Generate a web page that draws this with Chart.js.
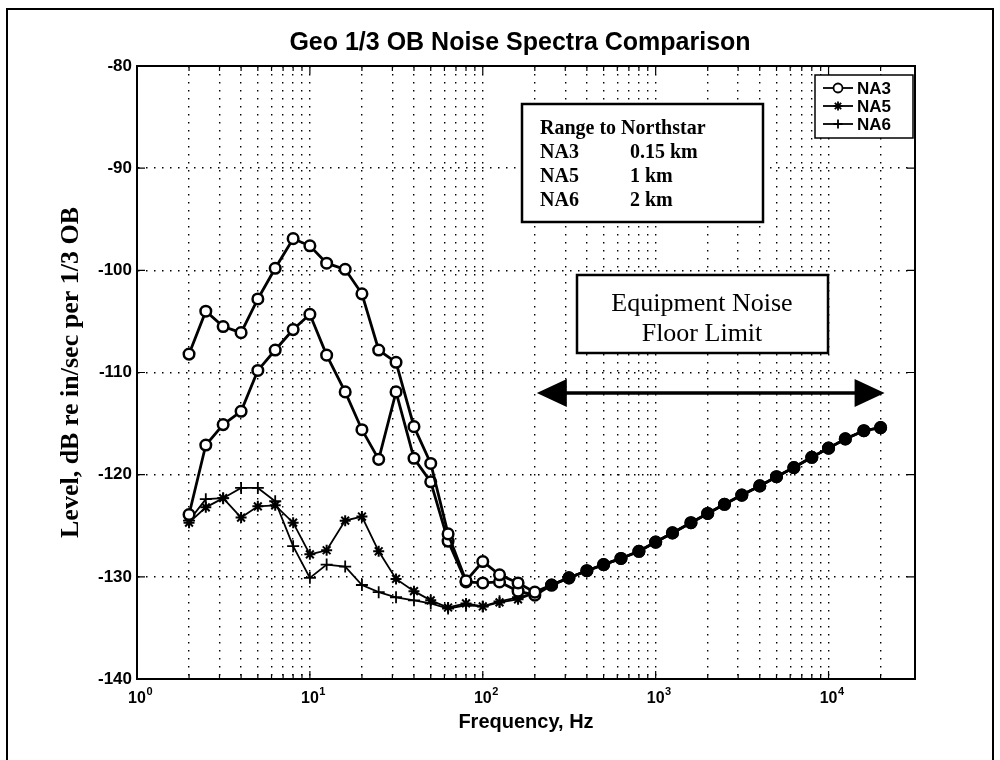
<!DOCTYPE html>
<html>
<head>
<meta charset="utf-8">
<script src="https://cdn.jsdelivr.net/npm/chart.js@4.4.1/dist/chart.umd.min.js"></script>
<style>
  html, body { margin: 0; padding: 0; background: #fff; }
  #wrap { width: 1000px; height: 760px; }
</style>
</head>
<body>
<div id="wrap"><canvas id="noiseChart" width="1000" height="760"></canvas></div>
<script>
// 1/3 octave band centre frequencies, Hz
const bands = [2, 2.5, 3.15, 4, 5, 6.3, 8, 10, 12.5, 16, 20, 25, 31.5, 40, 50, 63, 80, 100, 125, 160, 200,
               250, 315, 400, 500, 630, 800, 1000, 1250, 1600, 2000, 2500, 3150, 4000, 5000, 6300, 8000,
               10000, 12500, 16000, 20000];

// levels 2 Hz .. 200 Hz, dB re in/sec
const na3  = [-108.2, -104.0, -105.5, -106.1, -102.8, -99.8, -96.9, -97.6, -99.3, -99.9, -102.3,
              -107.8, -109.0, -115.3, -118.9, -125.8, -130.4, -128.5, -129.8, -130.6, -131.5];
const na3b = [-123.9, -117.1, -115.1, -113.8, -109.8, -107.8, -105.8, -104.3, -108.3, -111.9, -115.6,
              -118.5, -111.9, -118.4, -120.7, -126.5, -130.5, -130.6, -130.5, -131.4, -131.8];
const na5  = [-124.7, -123.2, -122.3, -124.2, -123.1, -123.0, -124.7, -127.8, -127.4, -124.5, -124.1,
              -127.5, -130.2, -131.4, -132.3, -133.0, -132.6, -132.9, -132.5, -132.2, -131.6];
const na6  = [-124.5, -122.4, -122.3, -121.3, -121.3, -122.6, -127.0, -130.1, -128.8, -129.0, -130.8,
              -131.5, -132.0, -132.3, -132.6, -133.1, -132.8, -132.9, -132.4, -132.0, -131.6];

// equipment noise floor, 250 Hz .. 20 kHz (all stations overlap here)
const floorTail = [-130.8, -130.1, -129.4, -128.8, -128.2, -127.5, -126.6, -125.7, -124.7, -123.8,
                   -122.9, -122.0, -121.1, -120.2, -119.3, -118.3, -117.4, -116.5, -115.7, -115.4];

// axis ticks
const xDecades = [1, 10, 100, 1000, 10000];
const xExponents = ['0', '1', '2', '3', '4'];
const yTicks = [-140, -130, -120, -110, -100, -90, -80];

const rangeRows = [['NA3', '0.15 km'], ['NA5', '1 km'], ['NA6', '2 km']];

// grid positions 1,2,..9 per decade up to 2e4
const xGridTicks = [];
xDecades.forEach(d => {
    for (let k = 1; k <= 9; k++) {
        if (d * k <= 20000) xGridTicks.push(d * k);
    }
});

function toPoints(low) {
    const vals = low.concat(floorTail);
    return bands.map((f, i) => ({ x: f, y: vals[i] }));
}

function fillTail(c) {
    return (c.raw && c.raw.x > 200) ? '#000' : '#fff';
}

const serif = '"Liberation Serif", "Times New Roman", serif';
const sans = '"Liberation Sans", Arial, sans-serif';
const tickFont = { family: sans, size: 16, weight: 'bold' };

// extras drawn on top: frame, title, exponents, boxes, arrow, legend
const decorPlugin = {
    id: 'decor',
    afterDraw(chart) {
        const ctx = chart.ctx;
        const a = chart.chartArea;
        const xs = chart.scales.x;
        const ys = chart.scales.y;
        ctx.save();
        ctx.strokeStyle = '#000';
        ctx.fillStyle = '#000';

        // outer frame
        ctx.lineWidth = 2;
        ctx.strokeRect(7, 9, 986, 800);

        // inward tick marks on all sides
        ctx.lineWidth = 1.2;
        xGridTicks.forEach(v => {
            const px = xs.getPixelForValue(v);
            const len = xDecades.includes(v) ? 8 : 5;
            ctx.beginPath();
            ctx.moveTo(px, a.bottom); ctx.lineTo(px, a.bottom - len);
            ctx.moveTo(px, a.top); ctx.lineTo(px, a.top + len);
            ctx.stroke();
        });
        yTicks.forEach(v => {
            const py = ys.getPixelForValue(v);
            ctx.beginPath();
            ctx.moveTo(a.left, py); ctx.lineTo(a.left + 8, py);
            ctx.moveTo(a.right, py); ctx.lineTo(a.right - 8, py);
            ctx.stroke();
        });

        // axes box
        ctx.lineWidth = 2;
        ctx.strokeRect(a.left, a.top, a.right - a.left, a.bottom - a.top);

        // exponents of the decade labels
        ctx.font = 'bold 16px ' + sans;
        const baseW = ctx.measureText('10').width;
        const labelY = xs.top + 10 + 9.6;
        ctx.font = 'bold 11px ' + sans;
        ctx.textAlign = 'left';
        ctx.textBaseline = 'middle';
        xDecades.forEach((v, i) => {
            ctx.fillText(xExponents[i], xs.getPixelForValue(v) + baseW / 2 + 0.5, labelY - 7);
        });

        // title
        ctx.font = 'bold 25px ' + sans;
        ctx.textAlign = 'center';
        ctx.fillText('Geo 1/3 OB Noise Spectra Comparison', (a.left + a.right) / 2 - 6, 43);

        // range box
        ctx.fillStyle = '#fff';
        ctx.fillRect(522, 104, 241, 118);
        ctx.fillStyle = '#000';
        ctx.lineWidth = 2.5;
        ctx.strokeRect(522, 104, 241, 118);
        ctx.font = 'bold 20px ' + serif;
        ctx.textAlign = 'left';
        ctx.fillText('Range to Northstar', 540, 129);
        rangeRows.forEach((r, i) => {
            ctx.fillText(r[0], 540, 153 + i * 24);
            ctx.fillText(r[1], 630, 153 + i * 24);
        });

        // equipment noise floor box
        ctx.fillStyle = '#fff';
        ctx.fillRect(577, 275, 251, 78);
        ctx.fillStyle = '#000';
        ctx.strokeRect(577, 275, 251, 78);
        ctx.font = '26px ' + serif;
        ctx.textAlign = 'center';
        ctx.fillText('Equipment Noise', 702, 304);
        ctx.fillText('Floor Limit', 702, 334);

        // double arrow 200 Hz .. 20 kHz
        const ay = ys.getPixelForValue(-112);
        const x1 = xs.getPixelForValue(200) + 2;
        const x2 = xs.getPixelForValue(20000) + 4;
        ctx.lineWidth = 3.5;
        ctx.beginPath();
        ctx.moveTo(x1 + 20, ay); ctx.lineTo(x2 - 20, ay);
        ctx.stroke();
        ctx.beginPath();
        ctx.moveTo(x1, ay); ctx.lineTo(x1 + 30, ay - 14); ctx.lineTo(x1 + 30, ay + 14); ctx.closePath();
        ctx.moveTo(x2, ay); ctx.lineTo(x2 - 30, ay - 14); ctx.lineTo(x2 - 30, ay + 14); ctx.closePath();
        ctx.fill();

        // legend
        ctx.fillStyle = '#fff';
        ctx.fillRect(815, 75, 98, 63);
        ctx.fillStyle = '#000';
        ctx.lineWidth = 1.5;
        ctx.strokeRect(815, 75, 98, 63);
        ctx.font = 'bold 17px ' + sans;
        ctx.textAlign = 'left';
        const styles = ['circle', 'star', 'cross'];
        ['NA3', 'NA5', 'NA6'].forEach((name, i) => {
            const ly = 88 + i * 18;
            ctx.lineWidth = 1.8;
            ctx.beginPath();
            ctx.moveTo(823, ly); ctx.lineTo(853, ly);
            ctx.stroke();
            ctx.fillStyle = '#fff';
            Chart.helpers.drawPoint(ctx, { pointStyle: styles[i], radius: 4.5, borderWidth: 1.8 }, 838, ly);
            ctx.fillStyle = '#000';
            ctx.fillText(name, 857, ly + 1);
        });
        ctx.restore();
    }
};

Chart.defaults.color = '#000';
Chart.defaults.animation = false;

const noiseChart = new Chart(document.getElementById('noiseChart'), {
    type: 'line',
    data: {
        datasets: [{
            label: 'NA3',
            data: toPoints(na3),
            borderColor: '#000',
            borderWidth: 2.8,
            pointStyle: 'circle',
            pointRadius: 5.3,
            pointBorderWidth: 2.5,
            pointBorderColor: '#000',
            pointBackgroundColor: fillTail
        }, {
            label: 'NA3 (2)',
            data: toPoints(na3b),
            borderColor: '#000',
            borderWidth: 2.8,
            pointStyle: 'circle',
            pointRadius: 5.3,
            pointBorderWidth: 2.5,
            pointBorderColor: '#000',
            pointBackgroundColor: fillTail
        }, {
            label: 'NA5',
            data: toPoints(na5),
            borderColor: '#000',
            borderWidth: 1.8,
            pointStyle: 'star',
            pointRadius: 5.5,
            pointBorderWidth: 2,
            pointBorderColor: '#000'
        }, {
            label: 'NA6',
            data: toPoints(na6),
            borderColor: '#000',
            borderWidth: 1.8,
            pointStyle: 'cross',
            pointRadius: 6,
            pointBorderWidth: 1.8,
            pointBorderColor: '#000'
        }]
    },
    options: {
        responsive: false,
        layout: { padding: { left: 0, right: 85, top: 66, bottom: 24 } },
        plugins: {
            legend: { display: false },
            tooltip: { enabled: false },
            title: { display: false }
        },
        elements: { line: { tension: 0 } },
        scales: {
            x: {
                type: 'logarithmic',
                min: 1,
                max: Math.pow(10, 4.5),
                afterBuildTicks: s => { s.ticks = xGridTicks.map(v => ({ value: v })); },
                afterFit: s => { s.height = 57; },
                ticks: {
                    autoSkip: false,
                    maxRotation: 0,
                    padding: 10,
                    font: tickFont,
                    callback: v => (xDecades.includes(v) ? '10' : '')
                },
                grid: { color: '#000', lineWidth: 1.4, drawTicks: false },
                border: { display: true, color: '#000', width: 2, dash: [1.5, 6.5] },
                title: {
                    display: true,
                    text: 'Frequency, Hz',
                    font: { family: sans, size: 20, weight: 'bold' },
                    padding: { top: 0, bottom: 2 }
                }
            },
            y: {
                type: 'linear',
                min: -140,
                max: -80,
                afterBuildTicks: s => { s.ticks = yTicks.map(v => ({ value: v })); },
                afterFit: s => { s.width = 137; },
                ticks: {
                    padding: 5,
                    font: { family: sans, size: 17, weight: 'bold' }
                },
                grid: { color: '#000', lineWidth: 1.4, drawTicks: false },
                border: { display: true, color: '#000', width: 2, dash: [1.5, 6.5] },
                title: {
                    display: true,
                    text: 'Level, dB re in/sec per 1/3 OB',
                    font: { family: serif, size: 26, weight: 'bold' },
                    padding: { top: 56, bottom: 0 }
                }
            }
        }
    },
    plugins: [decorPlugin]
});
</script>
</body>
</html>
